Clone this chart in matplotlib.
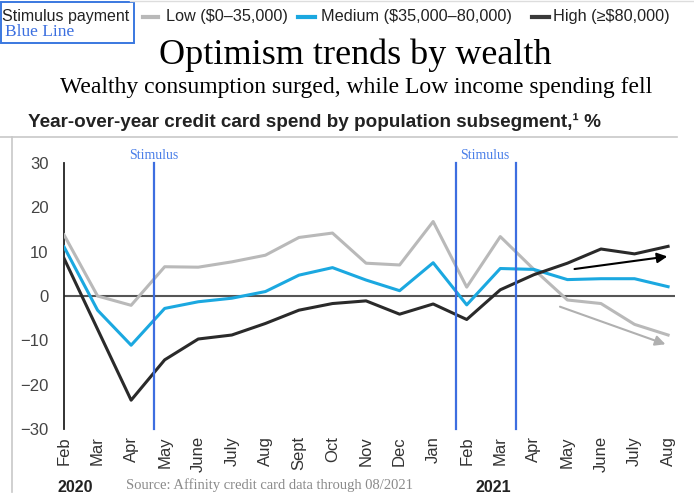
import matplotlib.pyplot as plt
from matplotlib.lines import Line2D
from matplotlib.patches import Rectangle
import numpy as np

months = ['Feb', 'Mar', 'Apr', 'May', 'June', 'July', 'Aug', 'Sept', 'Oct', 'Nov', 'Dec', 'Jan',
          'Feb', 'Mar', 'Apr', 'May', 'June', 'July', 'Aug']
low = [13.8, 0.0, -2.1, 6.6, 6.5, 7.7, 9.2, 13.2, 14.2, 7.4, 7.0, 16.8,
       2.0, 13.4, 6.0, -0.9, -1.7, -6.4, -8.8]
medium = [11.1, -3.2, -11.1, -2.8, -1.3, -0.5, 1.0, 4.7, 6.4, 3.6, 1.2, 7.5,
          -2.0, 6.2, 6.0, 3.7, 3.9, 3.9, 2.1]
high = [8.5, -7.5, -23.5, -14.4, -9.7, -8.8, -6.2, -3.2, -1.7, -1.1, -4.1, -1.8,
        -5.3, 1.4, 4.8, 7.4, 10.6, 9.5, 11.2]

W, H = 694, 500


def fx(px):
    return px / W


def fy(py):
    return 1 - py / H


fig = plt.figure(figsize=(6.94, 5.0), dpi=100)
x = np.arange(len(months))

# axes placed so Feb 2020 sits at x=64px, Aug 2021 at x=668px
ax = fig.add_axes([fx(64), fy(429), (674.8 - 64) / W, (429 - 163) / H])
ax.set_xlim(0, 18.2)
ax.set_ylim(-30, 30)

ax.plot(x, low, color='#b9b9b9', lw=2.2, solid_joinstyle='round', zorder=3)
ax.plot(x, medium, color='#1ba8e0', lw=2.2, solid_joinstyle='round', zorder=3)
ax.plot(x, high, color='#2a2a2a', lw=2.2, solid_joinstyle='round', zorder=4)
ax.axhline(0, color='#555555', lw=1.5, zorder=2)

# stimulus payments
for sx in [2.68, 11.67, 13.46]:
    ax.plot([sx, sx], [-30, 30], color='#3d6ee0', lw=1.6, zorder=5, clip_on=False)
ax.text(2.68, 31.8, 'Stimulus', color='#4a7fe8', family='Liberation Serif',
        fontsize=10, ha='center', va='center')
ax.text(12.55, 31.8, 'Stimulus', color='#4a7fe8', family='Liberation Serif',
        fontsize=10, ha='center', va='center')

# trend arrows
ax.annotate('', xy=(18.06, 9.0), xytext=(15.13, 6.0),
            arrowprops=dict(arrowstyle='-|>', color='black', lw=1.5, mutation_scale=15))
ax.annotate('', xy=(18.0, -11.1), xytext=(14.7, -2.2),
            arrowprops=dict(arrowstyle='-|>', color='#b0b0b0', lw=1.5, mutation_scale=15))

for s in ['top', 'right', 'bottom']:
    ax.spines[s].set_visible(False)
ax.spines['left'].set_color('#222222')
ax.spines['left'].set_linewidth(1.3)
ax.set_yticks([-30, -20, -10, 0, 10, 20, 30])
ax.set_xticks(x)
ax.set_xticklabels(months, rotation=90, family='Liberation Sans', fontsize=12, color='#333333')
for t in ax.get_yticklabels():
    t.set_family('Liberation Sans')
    t.set_fontsize(12)
    t.set_color('#444444')
ax.tick_params(length=0)
ax.tick_params(axis='y', pad=11)
ax.tick_params(axis='x', pad=5)

# frame lines
fig.add_artist(Line2D([fx(0), fx(677)], [fy(137), fy(137)], color='#c8c8c8', lw=1.2))
fig.add_artist(Line2D([fx(12), fx(12)], [fy(137), fy(492)], color='#c8c8c8', lw=1.2))
fig.add_artist(Line2D([fx(130), fx(694)], [fy(1), fy(1)], color='#dddddd', lw=1))

# legend row
fig.add_artist(Rectangle((fx(1), fy(43)), fx(133), 41 / H, fill=False,
                         edgecolor='#3a78e0', lw=1.4))
fig.text(fx(2), fy(17), 'Stimulus payment', family='Liberation Sans', fontsize=11.5,
         color='#222222', va='center', ha='left')
fig.text(fx(5), fy(32), 'Blue Line', family='Liberation Serif', fontsize=12.5,
         color='#3b6fe0', va='center', ha='left')
legend_items = [(143, 158, '#b9b9b9', 166, 'Low ($0–35,000)'),
                (298, 315, '#1ba8e0', 321, 'Medium ($35,000–80,000)'),
                (532, 549, '#3a3a3a', 553, 'High (≥$80,000)')]
for x0, x1, c, tx, lab in legend_items:
    fig.add_artist(Line2D([fx(x0), fx(x1)], [fy(17), fy(17)], color=c, lw=3))
    fig.text(fx(tx), fy(17), lab, family='Liberation Sans', fontsize=11.7,
             color='#222222', va='center', ha='left')

# titles
fig.text(fx(355), fy(64), 'Optimism trends by wealth', family='Liberation Serif',
         fontsize=26, ha='center', va='baseline')
fig.text(fx(356), fy(93), 'Wealthy consumption surged, while Low income spending fell',
         family='Liberation Serif', fontsize=17, ha='center', va='baseline')
fig.text(fx(28), fy(122), 'Year-over-year credit card spend by population subsegment,¹ %',
         family='Liberation Sans', fontweight='bold', fontsize=13.6, color='#222222',
         ha='left', va='center')

# year labels and source
fig.text(fx(75), fy(487), '2020', family='Liberation Sans', fontweight='bold',
         fontsize=11.5, color='#222222', ha='center', va='center')
fig.text(fx(493), fy(487), '2021', family='Liberation Sans', fontweight='bold',
         fontsize=11.5, color='#222222', ha='center', va='center')
fig.text(fx(126), fy(485), 'Source: Affinity credit card data through 08/2021',
         family='Liberation Serif', fontsize=10.5, color='#8a8a8a', ha='left', va='center')

fig.savefig('out.png', dpi=100)
